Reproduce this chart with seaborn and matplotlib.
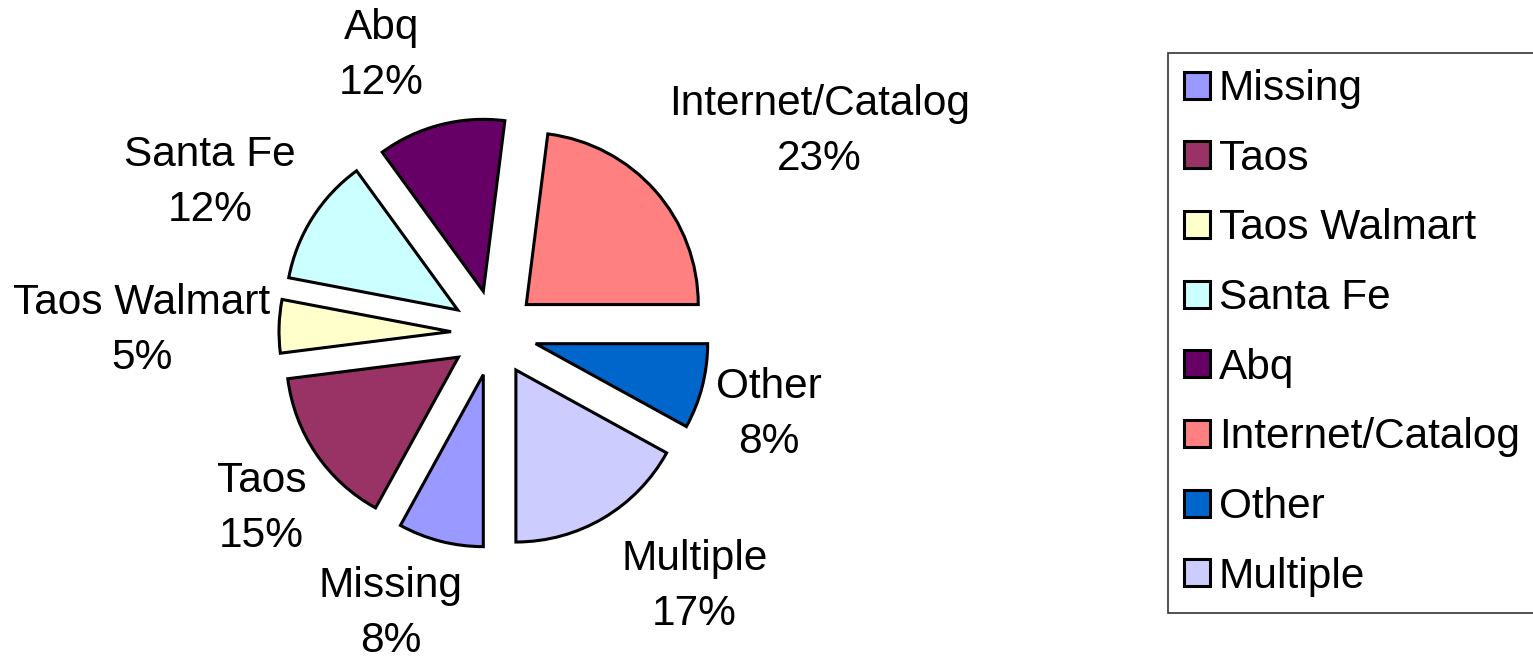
import numpy as np
import matplotlib
matplotlib.use("Agg")
import matplotlib.pyplot as plt
import seaborn as sns

categories = ["Missing", "Taos", "Taos Walmart", "Santa Fe", "Abq",
              "Internet/Catalog", "Other", "Multiple"]
percent = [8, 15, 5, 12, 12, 23, 8, 17]
colors = ["#9999FF", "#993366", "#FFFFCC", "#CCFFFF", "#660066",
          "#FF8080", "#0066CC", "#CCCCFF"]

# style: label placement (gap beyond rim as fraction of radius, angular nudge in degrees)
label_gap = [0.20, 0.178, 0.05, 0.174, 0.224, 0.32, 0.112, 0.30]
label_nudge = [-5.1, 3.1, 1.5, 1.7, 9.3, -2.4, -2.8, 6.4]

sns.set_theme(style="white")
plt.rcParams['font.family'] = ['Liberation Sans', 'DejaVu Sans']
plt.rcParams['text.color'] = 'black'
FS = 30.5

W, H = 1533, 659
fig = plt.figure(figsize=(W / 100, H / 100), dpi=100)
cx_px, cy_px, half = 494, 333, 344
ax = fig.add_axes([(cx_px - half) / W, (H - cy_px - half) / H, 2 * half / W, 2 * half / H])

wedges, _ = ax.pie(percent, colors=sns.color_palette(colors), startangle=270,
                   counterclock=False, explode=[0.25] * len(percent),
                   wedgeprops=dict(edgecolor="black", linewidth=2.2))
ax.set_xlim(-2, 2)
ax.set_ylim(-2, 2)
ax.set_aspect("equal")
ax.axis("off")

fig.canvas.draw()
renderer = fig.canvas.get_renderer()
inv = ax.transData.inverted()
for w, name, p, g, dn in zip(wedges, categories, percent, label_gap, label_nudge):
    th = np.radians((w.theta1 + w.theta2) / 2 + dn)
    ux, uy = np.cos(th), np.sin(th)
    cx, cy = w.center
    px, py = cx + (w.r + g) * ux, cy + (w.r + g) * uy
    t = ax.text(px, py, f"{name}\n{p}%", ha="center", va="center",
                multialignment="center", fontsize=FS, color="black",
                linespacing=1.48)
    bb = t.get_window_extent(renderer)
    (x0, y0), (x1, y1) = inv.transform([[bb.x0, bb.y0], [bb.x1, bb.y1]])
    tw, tht = x1 - x0, y1 - y0
    t.set_position((px + ux * tw / 2, py + uy * tht / 2))

leg = fig.legend(wedges, categories, loc="upper left",
                 bbox_to_anchor=(1168 / W, 1 - 53 / H), borderaxespad=0,
                 fontsize=FS, frameon=True, fancybox=False, shadow=False,
                 handlelength=0.6, handleheight=0.6, handletextpad=0.22,
                 labelspacing=0.70, borderpad=0.38, labelcolor="black")
leg.get_frame().set_edgecolor("black")
leg.get_frame().set_linewidth(1.2)

fig.savefig("out.png", dpi=100, facecolor="white")
